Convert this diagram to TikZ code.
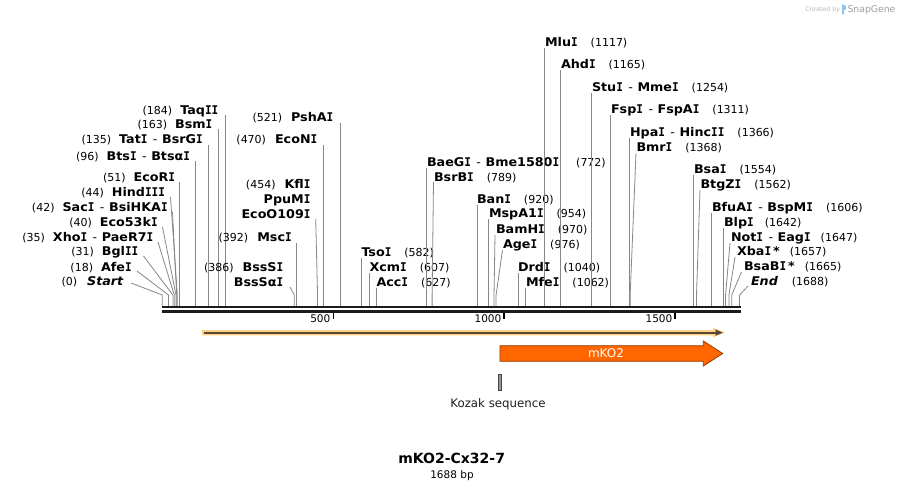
\documentclass[tikz,border=0pt]{standalone}
\usepackage{fontspec}
\setmainfont{DejaVu Sans}
\newfontfamily\nmfont{DejaVu Sans}[FakeStretch=1.06]
\newfontfamily\monoI{DejaVu Sans Mono}[FakeStretch=0.92]
\definecolor{cutc}{RGB}{135,135,135}
\definecolor{bbc}{RGB}{28,28,28}
\definecolor{halo}{RGB}{255,208,128}
\definecolor{core}{RGB}{85,72,55}
\definecolor{mko}{RGB}{255,102,0}
\definecolor{mkoedge}{RGB}{150,60,0}
\definecolor{kozf}{RGB}{150,150,155}
\definecolor{kozd}{RGB}{70,70,70}
\definecolor{sgray}{RGB}{185,185,185}
\definecolor{sblue}{RGB}{140,195,240}
\newcommand{\bpx}[1]{162.3+0.342*#1}
\newcommand{\Iser}{{\monoI I}}
\newcommand{\nm}[1]{{\nmfont\fontsize{12}{13}\selectfont\bfseries #1}}
\newcommand{\nmi}[1]{{\nmfont\fontsize{12}{13}\selectfont\bfseries\itshape #1}}
\newcommand{\nmb}[1]{{\fontsize{11}{13}\selectfont #1}}
\newcommand{\hy}{\hspace{5.5pt}{\nmfont\fontsize{12}{13}\selectfont -}\hspace{4.5pt}}
\newcommand{\labL}[6][8pt]{\node[lab,anchor=base east] (#2) at (#3,#4+4.4) {\nmb{(#6)}\hspace{#1}#5};}
\newcommand{\labR}[6][13pt]{\node[lab,anchor=base west] (#2) at (#3,#4+4.4) {#5\hspace{#1}\nmb{(#6)}};}
\newcommand{\labN}[4]{\node[lab,anchor=base east] (#1) at (#2,#3+4.4) {#4};}
\newcommand{\siteV}[3]{\coordinate (#1t) at ({\bpx{#2}},#3); \coordinate (#1b) at ({\bpx{#2}},306); \draw[cut] (#1t) -- (#1b);}
\newcommand{\siteD}[4]{\coordinate (#1t) at (#3,#4); \coordinate (#1m) at ({\bpx{#2}},295); \coordinate (#1b) at ({\bpx{#2}},306); \draw[cut] (#1t) -- (#1m) -- (#1b);}
\begin{document}
\begin{tikzpicture}[x=1pt,y=-1pt,
  lab/.style={inner sep=0pt,outer sep=0pt},
  cut/.style={draw=cutc,line width=0.8pt},
  tick/.style={draw=black,line width=1.6pt}]
\useasboundingbox[fill=white] (0,0) rectangle (903,485);

% ---------- left fan ----------
\labL{tTaqII}{218.3}{110}{\nm{Taq\Iser\Iser}}{184} \siteV{TaqII}{184}{115}
\labL{tBsmI}{212.3}{124.3}{\nm{Bsm\Iser}}{163} \siteV{BsmI}{163}{129}
\labL{tTatI}{202.7}{139}{\nm{Tat\Iser}\hy\nm{BsrG\Iser}}{135} \siteV{TatI}{135}{145}
\labL{tBtsI}{190}{156}{\nm{Bts\Iser}\hy\nm{Btsα\Iser}}{96} \siteV{BtsI}{96}{161}
\labL{tEcoRI}{175}{177}{\nm{EcoR\Iser}}{51} \siteV{EcoRI}{51}{182}
\labL{tHindIII}{165}{192}{\nm{Hind\Iser\Iser\Iser}}{44} \siteD{HindIII}{44}{170.5}{197}
\labL{tSacI}{167.7}{207}{\nm{Sac\Iser}\hy\nm{BsiHKA\Iser}}{42} \siteD{SacI}{42}{172.5}{212}
\labL{tEcoFiftyThree}{157.7}{222}{\nm{Eco53k\Iser}}{40} \siteD{EcoFT}{40}{162.5}{227}
\labL{tXhoI}{153.3}{237}{\nm{Xho\Iser}\hy\nm{PaeR7\Iser}}{35} \siteD{XhoI}{35}{158}{242}
\labL{tBglII}{138.3}{251}{\nm{Bgl\Iser\Iser}}{31} \siteD{BglII}{31}{143.5}{256}
\labL{tAfeI}{131.7}{267}{\nm{Afe\Iser}}{18} \siteD{AfeI}{18}{137}{271}
\labL[10pt]{tStart}{123.3}{281}{\nmi{Start}}{0} \siteD{Start}{0}{131}{283}

% ---------- middle left ----------
\labL[9pt]{tPshAI}{333.3}{117}{\nm{PshA\Iser}}{521} \siteV{PshAI}{521}{123}
\labL[9pt]{tEcoNI}{317.3}{139}{\nm{EcoN\Iser}}{470} \siteV{EcoNI}{470}{145}
\labL[9pt]{tKflI}{310.5}{184}{\nm{Kfl\Iser}}{454}
\labN{tPpuMI}{310.5}{199}{\nm{PpuM\Iser}}
\labN{tEcoO}{310.5}{214}{\nm{EcoO109\Iser}}
\siteD{KflI}{454}{315.7}{219}
\labL[9pt]{tMscI}{291.7}{237}{\nm{Msc\Iser}}{392} \siteV{MscI}{392}{243}
\labL[9pt]{tBssSI}{283.3}{267}{\nm{BssS\Iser}}{386}
\labN{tBssSaI}{283.3}{282}{\nm{BssSα\Iser}}
\siteD{BssSI}{386}{290}{287}

% ---------- right side ----------
\labR{tTsoI}{361.5}{252}{\nm{Tso\Iser}}{582} \siteV{TsoI}{582}{258}
\labR{tXcmI}{369.5}{267}{\nm{Xcm\Iser}}{607} \siteV{XcmI}{607}{273}
\labR{tAccI}{376.5}{282}{\nm{Acc\Iser}}{627} \siteV{AccI}{627}{288}
\labR[17pt]{tBaeGI}{427}{162}{\nm{BaeG\Iser}\hy\nm{Bme1580\Iser}}{772} \siteV{BaeGI}{772}{168}
\labR{tBsrBI}{434}{177}{\nm{BsrB\Iser}}{789} \siteD{BsrBI}{789}{433.5}{182}
\labR{tBanI}{477}{199}{\nm{Ban\Iser}}{920} \siteV{BanI}{920}{205}
\labR{tMspAI}{489}{213}{\nm{MspA1\Iser}}{954} \siteV{MspAI}{954}{219}
\labR{tBamHI}{496}{229}{\nm{BamH\Iser}}{970} \siteD{BamHI}{970}{495}{235}
\labR{tAgeI}{503}{244}{\nm{Age\Iser}}{976} \siteD{AgeI}{976}{502.5}{250}
\labR{tDrdI}{518}{267}{\nm{Drd\Iser}}{1040} \siteV{DrdI}{1040}{273}
\labR{tMfeI}{526}{282}{\nm{Mfe\Iser}}{1062} \siteV{MfeI}{1062}{288}
\labR{tMluI}{545}{42}{\nm{Mlu\Iser}}{1117} \siteV{MluI}{1117}{48}
\labR{tAhdI}{561}{64}{\nm{Ahd\Iser}}{1165} \siteV{AhdI}{1165}{70}
\labR{tStuI}{592}{87}{\nm{Stu\Iser}\hy\nm{Mme\Iser}}{1254} \siteV{StuI}{1254}{93}
\labR{tFspI}{611}{109}{\nm{Fsp\Iser}\hy\nm{FspA\Iser}}{1311} \siteV{FspI}{1311}{115}
\labR{tHpaI}{630}{132}{\nm{Hpa\Iser}\hy\nm{Hinc\Iser\Iser}}{1366} \siteV{HpaI}{1366}{138}
\labR{tBmrI}{636.5}{147}{\nm{Bmr\Iser}}{1368} \siteD{BmrI}{1368}{636}{153}
\labR{tBsaI}{694}{169}{\nm{Bsa\Iser}}{1554} \siteV{BsaI}{1554}{175}
\labR{tBtgZI}{700.5}{184}{\nm{BtgZ\Iser}}{1562} \siteD{BtgZI}{1562}{700}{190}
\labR{tBfuAI}{712}{207}{\nm{BfuA\Iser}\hy\nm{BspM\Iser}}{1606} \siteV{BfuAI}{1606}{213}
\labR[11pt]{tBlpI}{724}{222}{\nm{Blp\Iser}}{1642} \siteV{BlpI}{1642}{228}
\labR[10pt]{tNotI}{731}{237}{\nm{Not\Iser}\hy\nm{Eag\Iser}}{1647} \siteD{NotI}{1647}{730}{243}
\labR[10pt]{tXbaI}{737}{251}{\nm{Xba\Iser\,*}}{1657} \siteD{XbaI}{1657}{735}{257}
\labR[10pt]{tBsaBI}{744}{266}{\nm{BsaB\Iser\,*}}{1665} \siteD{BsaBI}{1665}{741.5}{272}
\labR[14pt]{tEnd}{751}{281}{\nmi{End}}{1688} \siteD{End}{1688}{748}{286}

% ---------- backbone ----------
\fill[bbc] (162,305.8) rectangle (741,308.4);
\fill[bbc] (162,310.3) rectangle (741,312.8);
\foreach \v in {500,1000,1500}{
  \draw[tick] ({\bpx{\v}},312.7) -- ({\bpx{\v}},318.5);
  \node[lab,anchor=base east,font=\fontsize{10.5}{12}\selectfont] (tk\v) at ({\bpx{\v}-3},322.8) {\v};
}

% ---------- features ----------
\fill[halo] (202,330) -- (713,330) -- (713,327.8) -- (724.8,332.6) -- (713,337.4) -- (713,335.3) -- (202,335.3) -- cycle;
\coordinate (ya) at (204,332.6);
\coordinate (yb) at (717,332.6);
\draw[core,line width=2pt] (ya) -- (yb);
\fill[core] (715.5,329.4) -- (722.8,332.6) -- (715.5,335.8) -- cycle;

\draw[mkoedge,fill=mko,line width=0.8pt] (500,345.7) -- (703.3,345.7) -- (703.3,341) -- (722.7,353.5) -- (703.3,366) -- (703.3,361.3) -- (500,361.3) -- cycle;
\node[lab,anchor=base,text=white,font=\fontsize{12}{14}\selectfont] (mkoTxt) at (606,357.9) {mKO2};

\draw[kozd,fill=kozf,line width=0.6pt] (498.4,374) rectangle (501.6,390.7);
\node[lab,anchor=base,font=\fontsize{11.8}{14}\selectfont,text={rgb,255:red,30;green,30;blue,30}] (kozak) at (498,407.8) {Kozak sequence};

% ---------- title ----------
\node[lab,anchor=base,font=\fontsize{14}{16}\selectfont\bfseries] (title) at (451.7,463.4) {mKO2-Cx32-7};
\node[lab,anchor=base,font=\fontsize{10.5}{12}\selectfont] (bplen) at (452,478.1) {1688 bp};

% ---------- credit ----------
\node[lab,anchor=base east,text=sgray,font=\fontsize{6.3}{8}\selectfont] (cre) at (840,11.5) {Created by};
\fill[sblue] (842,14) -- (842,4.5) .. controls (845.5,4.5) and (847,6.5) .. (846,9) -- (844.2,10) -- (844.2,14) -- cycle;
\node[lab,anchor=base west,text={rgb,255:red,160;green,160;blue,160},font=\fontsize{9.3}{11}\selectfont] (sg) at (847.5,12.5) {SnapGene};
\end{tikzpicture}
\end{document}
